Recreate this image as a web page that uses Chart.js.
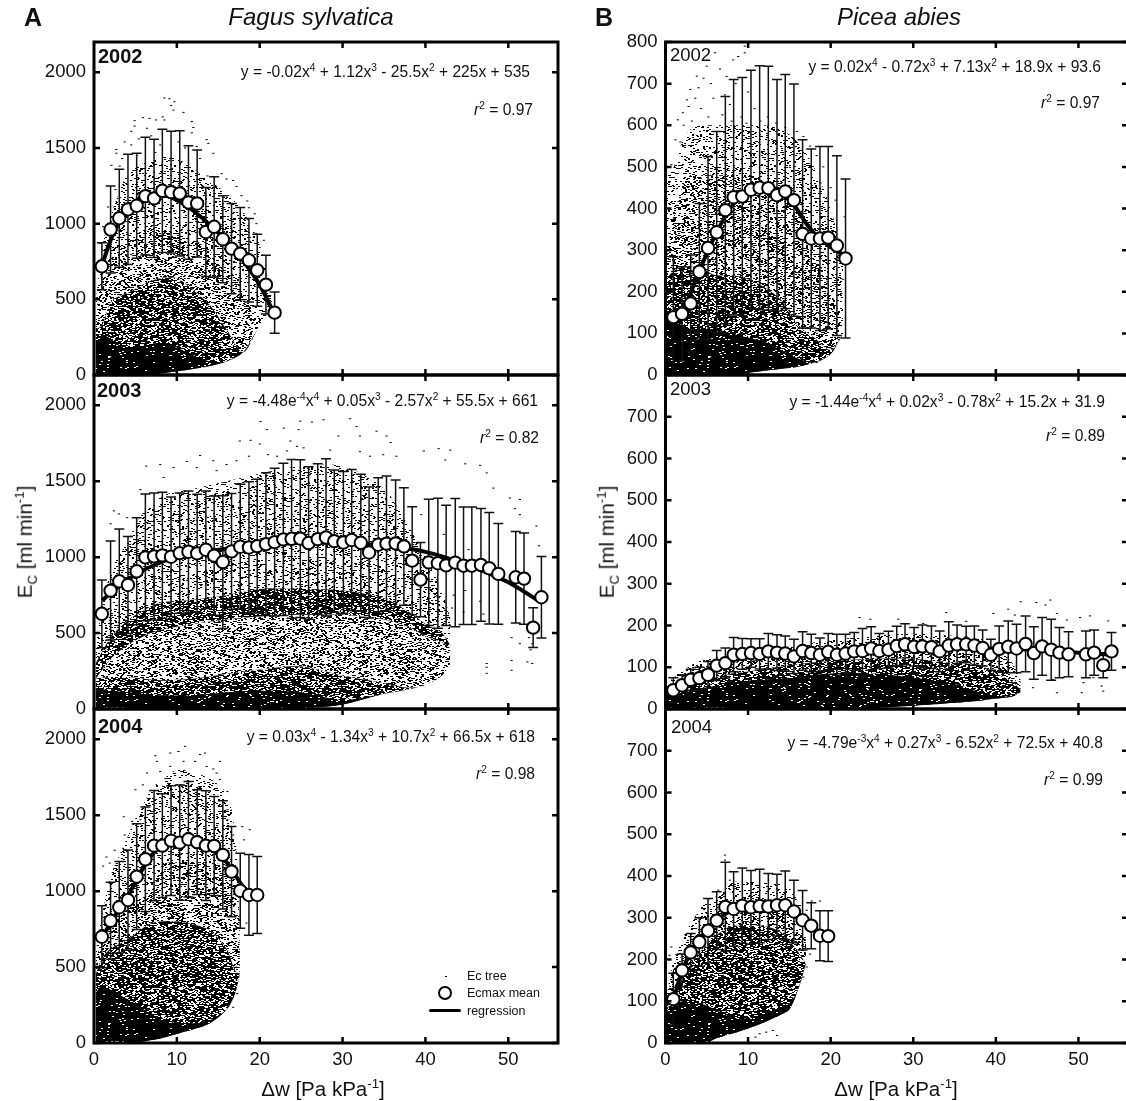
<!DOCTYPE html>
<html>
<head>
<meta charset="utf-8">
<title>Ec vs. delta w</title>
<script src="https://cdn.jsdelivr.net/npm/chart.js@4/dist/chart.umd.min.js"></script>
<style>
  html, body { margin: 0; padding: 0; background: #fff; }
  #page { position: relative; width: 1126px; height: 1101px; overflow: hidden; font-family: "Liberation Sans", Arial, sans-serif; color: #111; }
  #page canvas { position: absolute; }
  .txt { position: absolute; white-space: nowrap; line-height: 1; }
  .eq { font-size: 15.6px; text-align: right; }
  .yr { font-size: 20px; font-weight: bold; }
  .yr.plain { font-weight: normal; font-size: 18.5px; }
  .letter { font-size: 25px; font-weight: bold; }
  .species { font-size: 24px; font-style: italic; transform: translateX(-50%); }
  .axt { font-size: 20.5px; }
  .axt.x { transform: translateX(-50%); }
  .axt.y { transform: translate(-50%, -50%) rotate(-90deg); }
  .leg { font-size: 12.5px; }
  sup, sub { font-size: 0.65em; line-height: 0; }
  #legCircle { position: absolute; left: 438px; top: 986px; width: 10px; height: 10px; border: 2px solid #000; border-radius: 50%; background: #fff; }
  #legLine { position: absolute; left: 429px; top: 1009px; width: 32px; height: 3px; background: #000; border-radius: 2px; }
  #legDot { position: absolute; left: 445px; top: 976px; width: 2px; height: 1px; background: #000; }
</style>
</head>
<body>
<div id="page">
  <div class="txt letter" style="left:24px;top:5px">A</div>
  <div class="txt letter" style="left:595px;top:5px">B</div>
  <div class="txt species" style="left:311px;top:5px">Fagus sylvatica</div>
  <div class="txt species" style="left:899px;top:5px">Picea abies</div>

  <div class="txt yr" style="left:98px;top:46px">2002</div>
  <div class="txt yr" style="left:97px;top:380px">2003</div>
  <div class="txt yr" style="left:98px;top:716px">2004</div>
  <div class="txt yr plain" style="left:670px;top:46px">2002</div>
  <div class="txt yr plain" style="left:670px;top:380px">2003</div>
  <div class="txt yr plain" style="left:671px;top:718px">2004</div>

  <div class="txt eq" style="right:596px;top:64px">y = -0.02x<sup>4</sup> + 1.12x<sup>3</sup> - 25.5x<sup>2</sup> + 225x + 535</div>
  <div class="txt eq" style="right:593px;top:102px"><i>r</i><sup>2</sup> = 0.97</div>
  <div class="txt eq" style="right:588px;top:393px">y = -4.48e<sup>-4</sup>x<sup>4</sup> + 0.05x<sup>3</sup> - 2.57x<sup>2</sup> + 55.5x + 661</div>
  <div class="txt eq" style="right:587px;top:430px"><i>r</i><sup>2</sup> = 0.82</div>
  <div class="txt eq" style="right:591px;top:729px">y = 0.03x<sup>4</sup> - 1.34x<sup>3</sup> + 10.7x<sup>2</sup> + 66.5x + 618</div>
  <div class="txt eq" style="right:591px;top:766px"><i>r</i><sup>2</sup> = 0.98</div>
  <div class="txt eq" style="right:25px;top:59px">y = 0.02x<sup>4</sup> - 0.72x<sup>3</sup> + 7.13x<sup>2</sup> + 18.9x + 93.6</div>
  <div class="txt eq" style="right:26px;top:95px"><i>r</i><sup>2</sup> = 0.97</div>
  <div class="txt eq" style="right:21px;top:394px">y = -1.44e<sup>-4</sup>x<sup>4</sup> + 0.02x<sup>3</sup> - 0.78x<sup>2</sup> + 15.2x + 31.9</div>
  <div class="txt eq" style="right:21px;top:428px"><i>r</i><sup>2</sup> = 0.89</div>
  <div class="txt eq" style="right:23px;top:735px">y = -4.79e<sup>-3</sup>x<sup>4</sup> + 0.27x<sup>3</sup> - 6.52x<sup>2</sup> + 72.5x + 40.8</div>
  <div class="txt eq" style="right:23px;top:772px"><i>r</i><sup>2</sup> = 0.99</div>

  <div class="txt axt y" style="left:25px;top:542px">E<sub>C</sub> [ml min<sup>-1</sup>]</div>
  <div class="txt axt y" style="left:607px;top:542px">E<sub>C</sub> [ml min<sup>-1</sup>]</div>
  <div class="txt axt x" style="left:323px;top:1079px">&#916;w [Pa kPa<sup>-1</sup>]</div>
  <div class="txt axt x" style="left:896px;top:1079px">&#916;w [Pa kPa<sup>-1</sup>]</div>

  <div class="txt leg" style="left:467px;top:970px">Ec tree</div>
  <div class="txt leg" style="left:467px;top:987px">Ecmax mean</div>
  <div class="txt leg" style="left:467px;top:1005px">regression</div>
</div>
<script>
// Values

const dwBins = [0.95,2,3.05,4.1,5.15,6.2,7.25,8.25,9.3,10.35,11.4,12.45,13.5,14.5,15.55,16.6,17.65,18.7,19.7,20.75,21.8,22.85,23.85,24.9,25.9,27,28,29,30.1,31.1,32.2,33.2,34.3,35.3,36.4,37.4,38.4,39.4,40.4,41.5,42.5,43.6,44.6,45.6,46.7,47.7,48.8,50.9,51.9,53,54];

const xTicks = [0,10,20,30,40,50];
const fagusTicks = [0,500,1000,1500,2000];
const piceaTicks = [0,100,200,300,400,500,600,700];
const piceaTicksTop = [0,100,200,300,400,500,600,700,800];

// Ecmax mean and its error bar half length
const meanA02 = [718,961,1036,1094,1118,1182,1167,1217,1208,1200,1140,1133,945,979,897,835,802,758,692,597,412];
const sdA02 = [155,287,324,364,347,389,390,407,402,414,375,353,294,331,287,298,305,276,238,194,136];
const meanA03 = [627,780,841,817,907,999,1005,1012,1003,1027,1036,1025,1049,1010,968,1038,1069,1064,1073,1086,1099,1117,1121,1122,1093,1119,1130,1106,1097,1113,1095,1031,1082,1089,1091,1071,977,852,966,960,946,964,944,944,949,927,890,868,859,536,736];
const sdA03 = [223,326,344,319,352,417,418,415,394,396,400,389,387,393,437,381,411,433,440,470,486,501,523,520,502,496,518,468,468,465,451,431,441,445,417,387,356,245,416,428,396,422,387,387,371,367,332,301,300,131,269];
const meanA04 = [700,805,894,942,1096,1210,1300,1300,1333,1320,1342,1323,1300,1298,1239,1129,1003,975,975];
const sdA04 = [204,254,301,330,348,344,363,342,361,379,381,345,361,326,356,297,247,266,253];
const meanB02 = [139,147,172,248,305,343,396,427,429,445,450,449,432,441,420,339,328,328,330,311,280];
const sdB02 = [145,113,116,164,220,242,273,283,286,287,293,293,278,281,279,226,215,221,219,216,191];
const meanB03 = [45,57,70,74,82,104,110,130,132,134,132,138,135,133,126,139,134,130,137,130,133,138,139,145,139,142,151,155,149,150,148,138,152,155,155,152,146,130,144,149,145,156,134,150,142,135,131,131,135,105,138];
const sdB03 = [30,25,25,26,32,36,36,41,37,34,36,43,43,42,41,46,45,40,44,49,46,45,54,52,42,44,47,49,46,51,51,49,57,46,43,47,43,37,55,62,58,67,63,69,73,60,54,56,54,30,45];
const meanB04 = [105,174,217,242,269,293,326,321,329,325,328,327,330,330,315,294,281,257,256];
const sdB04 = [62,39,45,58,77,69,107,89,90,88,88,79,74,82,75,71,55,60,61];

// regression lines, read as [dw, Ec]
const regA02 = [[1,730],[2,890],[3,1005],[4,1090],[6,1180],[8,1195],[10,1155],[12,1085],[14,990],[16,885],[18,755],[20,595],[21.8,400]];
const regA03 = [[1,715],[3,810],[5,885],[8,965],[12,1025],[16,1055],[20,1075],[25,1095],[30,1095],[35,1075],[40,1035],[45,950],[50,835],[54,700]];
const regA04 = [[1,700],[2,790],[3,880],[4,960],[5,1060],[6,1160],[7,1240],[8,1290],[10,1330],[12,1330],[14,1290],[15,1250],[16,1190],[17,1110],[18,1030],[19,985],[20,965]];
const regB02 = [[1,125],[2,150],[3,195],[4,245],[6,335],[8,405],[10,440],[12,450],[14,435],[15.5,410],[17,365],[18.5,330],[20,308],[21.8,285]];
const regB03 = [[1,46],[3,72],[5,94],[8,116],[12,130],[16,135],[20,137],[30,145],[40,145],[50,135],[54,130]];
const regB04 = [[1,105],[2,172],[3,215],[4,245],[6,290],[8,318],[10,330],[12,335],[14,325],[16,305],[18,275],[20,250]];

// Ec tree: the cloud has thousands of dots, so it is given as outlines of its
// density zones (upper limits per dw, one shared lower limit) plus the stray dots
const zoneXA02 = [0.2,1,2,3,4,6,8,10,12,14,16,18,20,21.5];
const zoneLoA02 = [0,0,0,0,0,0,10,25,40,60,90,150,330,450];
const sparseA02 = [480,850,1050,1200,1320,1400,1440,1430,1360,1280,1200,1080,860,500];
const midA02 = [350,640,750,800,830,900,950,960,900,820,700,520,380,450];
const denseA02 = [300,330,480,520,540,600,640,640,560,460,300,150,330,450];
const blackA02 = [260,270,240,200,180,200,210,180,130,90,90,150,330,450];

const zoneXA03 = [0.2,2,4,6,8,12,16,20,25,30,35,38,40,42,43];
const zoneLoA03 = [0,0,0,0,0,0,0,0,5,30,100,130,160,220,300];
const sparseA03 = [450,900,1100,1300,1400,1450,1500,1550,1600,1600,1450,1200,1000,780,600];
const midA03 = [300,520,620,680,710,720,750,790,790,780,720,640,560,500,420];
const denseA03 = [200,210,210,200,190,200,230,260,280,220,170,140,160,220,300];
const blackA03 = [140,120,110,100,90,90,110,120,110,60,100,130,160,220,300];
// dark ridge of the 2003 beech cloud
const ridgeHiA03 = [300,470,580,650,700,720,750,790,790,780,730,640,560,500,420];
const ridgeLoA03 = [200,330,420,480,520,560,590,610,620,620,590,540,480,440,400];

const zoneXA04 = [0.2,1,2,3,4,5,6,7,8,10,12,14,16,17,17.6];
const zoneLoA04 = [0,0,0,0,0,0,10,20,30,60,90,130,220,320,450];
const sparseA04 = [600,850,1100,1230,1350,1480,1580,1680,1720,1800,1780,1740,1640,1400,800];
const midA04 = [500,720,800,850,880,920,950,1000,1170,1190,1190,1190,1150,880,600];
const denseA04 = [450,560,620,650,680,720,760,790,800,800,780,740,620,480,450];
const blackA04 = [330,380,350,320,290,260,220,190,160,130,130,150,220,320,450];

const zoneXB02 = [0,1,2,3,4,6,8,10,12,14,16,18,20,21.5];
const zoneLoB02 = [0,0,0,0,0,0,0,5,10,15,20,30,50,100];
const sparseB02 = [480,500,560,590,600,600,600,600,600,590,560,500,400,280];
const midB02 = [280,380,450,480,480,480,480,480,470,440,380,300,200,130];
const denseB02 = [230,250,260,260,260,240,240,230,210,180,120,90,60,100];
const blackB02 = [150,130,120,110,110,110,100,90,80,60,40,30,50,100];

const zoneXB03 = [0,2,4,6,8,10,15,20,25,30,35,38,40,42,43];
const zoneLoB03 = [0,0,0,0,0,0,0,0,3,8,15,20,25,30,40];
const sparseB03 = [60,90,115,125,130,135,150,165,175,180,175,170,150,110,70];
const midB03 = [50,70,85,100,110,115,125,135,145,145,140,135,120,80,50];
const denseB03 = [40,55,65,75,85,90,105,115,120,120,110,105,85,65,45];
const blackB03 = [30,38,48,55,62,68,75,85,85,75,60,40,30,32,40];

const zoneXB04 = [0,1,2,3,4,5,6,7,8,10,12,14,15,16,17];
const zoneLoB04 = [0,0,0,0,0,0,10,16,22,35,50,68,80,125,190];
const sparseB04 = [100,200,250,285,315,340,350,370,385,385,385,380,370,350,300];
const midB04 = [80,180,210,240,265,290,310,330,335,340,345,340,330,300,240];
const denseB04 = [60,130,170,190,215,235,255,270,280,280,280,265,245,220,190];
const blackB04 = [60,90,100,100,95,90,80,70,60,60,70,85,95,125,190];

const strayA02 = [[8.5,1830],[9.1,1825],[9.7,1805],[9.3,1780],[9.6,1750],[10.8,1735],[5.9,1700],[6.7,1695],[7.5,1685],[8.3,1705],[8.5,1685],[4.9,1680],[4.9,1645],[6.4,1630],[4.5,1610],[11.8,1675],[12,1635],[11.8,1600],[13.6,1555],[13.8,1530],[3.7,1540],[2.7,1490],[2.7,1465],[14.4,1465],[12.8,1430],[2.1,1385],[3.1,1380],[13.7,1315],[15.4,1330],[16,1295],[16.8,1285],[17.2,1245],[17.8,1185],[18.5,1150],[18.7,1105],[19.4,1065],[19.6,1000],[20.5,890],[19.6,935],[0.7,870],[1.1,980],[1.7,1110],[2.6,1225],[4.5,1520],[5.4,1560],[6.9,1580],[8,1520],[9,1610],[10.2,1540],[11,1500],[7.4,1470],[12.4,1510],[3.4,1430],[5.2,1450]];
const strayA03 = [[20.1,1893],[20.9,1840],[22.9,1850],[17.6,1765],[18.9,1770],[20,1745],[23.7,1765],[24.5,1730],[21,1675],[22.1,1665],[23.3,1700],[6.3,1600],[8,1610],[9.6,1590],[11.2,1630],[12.8,1670],[14.4,1635],[16,1610],[17.2,1635],[18.7,1665],[8.4,1525],[5.6,1445],[2.4,1305],[4,1260],[2,1220],[3,1285],[14.8,1570],[12.4,1590],[24.9,1896],[26.3,1890],[27.7,1905],[30.9,1912],[31.7,1860],[24.7,1840],[29.5,1798],[32.1,1798],[34.1,1830],[35.3,1798],[35.8,1755],[25.3,1720],[28.5,1705],[32.1,1695],[33.3,1665],[34.9,1675],[36.5,1665],[39.8,1700],[41.6,1715],[43,1705],[42.4,1640],[44.8,1615],[46.6,1605],[47.4,1555],[48.2,1455],[50.2,1390],[51.4,1380],[50.8,1320],[51.4,1280],[53.4,1205],[53.7,1075],[52.5,470],[52.9,430],[52.7,390],[52.3,310],[52.9,300],[50.4,470],[50.4,320],[47.4,300],[47.4,275],[47.4,235],[50.4,255],[51.4,430],[43.4,750],[43.2,665],[44.6,640],[44.8,780],[46.6,710],[47,625],[41.2,740],[45.2,1050],[42.2,1150],[39.5,1280]];
const strayA04 = [[11,1954],[9.2,1910],[10.2,1920],[7.4,1892],[12.8,1900],[13.4,1910],[7.6,1855],[9.2,1822],[10.8,1855],[12.2,1855],[15.2,1855],[13.6,1822],[14.4,1805],[6.4,1778],[8,1788],[15.2,1735],[14.8,1778],[5,1668],[5.9,1700],[16.1,1656],[16.1,1536],[16.1,1470],[3.6,1490],[4.6,1460],[5.6,1470],[17.9,1425],[18.8,1405],[18.1,1338],[16.8,1370],[3.7,1370],[2.5,1270],[1.5,1225],[1.9,1185],[1.1,1165],[17.6,810],[18.4,790],[17.2,500],[17.2,415],[17.3,325],[16.8,235]];
const strayB02 = [[9.6,790],[8.8,765],[8.2,757],[9.6,774],[6,774],[6.6,735],[7.4,717],[5,742],[3.8,718],[4.6,713],[3,686],[2.6,661],[4,690],[7.2,673],[2.1,630],[2.8,645],[1.5,613],[1.2,565],[0.7,505],[15.9,585],[16.7,573],[17.5,550],[18.3,527],[19.1,500],[20,450],[20.6,420],[21.7,380],[21.5,230],[21.3,195],[20.7,130],[21,85],[19.1,55],[20,65],[18.3,30],[3.2,610],[4.3,640],[5.2,620],[5.8,665],[6.9,625],[7.8,650],[8.5,700],[9.2,620],[10,680],[10.8,640],[11.5,610],[12.4,620],[3.6,665],[2.2,600],[5.5,700],[8,610],[9.8,605],[13.4,605],[14.5,595],[1.8,560]];
const strayB03 = [[23.5,219],[24.8,215],[28.2,215],[34,231],[31.2,205],[36.4,210],[39.7,229],[43,257],[44.9,255],[46.6,261],[46,249],[41.5,239],[42.3,225],[47.4,229],[48.6,213],[50.2,219],[51.4,223],[53.6,211],[44.5,51],[47.4,39],[50.4,39],[52.8,55],[53,43],[50.6,63],[51.8,75],[42.1,51],[40.9,39],[39.3,47],[46.9,71]];
const strayB04 = [[7.2,450],[7.2,438],[0.7,230],[0.5,210],[7.8,390],[6.4,366],[17.7,340],[18.7,340],[17.1,318],[17.5,213],[17.1,182],[16.7,158],[11.4,22],[12.2,26],[13,30],[13.5,18],[10.9,14]];

// Small dashes repeated as a fill texture, so a zone looks like a dot cloud.
// Only a style: the dashes are not data, the zone outlines above are.
// With a base colour the dashes are white specks on a dark tile instead
function stipple(count, base) {
  const tile = document.createElement('canvas');
  tile.width = 211;
  tile.height = 197;
  const c = tile.getContext('2d');
  if (base) {
    c.fillStyle = base;
    c.fillRect(0, 0, 211, 197);
  }
  c.fillStyle = base ? '#fff' : '#000';
  for (let i = 1; i <= count; i++) {
    let h = Math.imul(i, 2654435761);
    h ^= h >>> 15;
    h = Math.imul(h, 2246822519);
    h ^= h >>> 13;
    c.fillRect((h >>> 4) % 211, (h >>> 16) % 197, 2, 1);
  }
  return c.createPattern(tile, 'repeat');
}

// Spine and inward tick marks, the figure has them on all four sides
const framePlugin = {
  id: 'frame',
  afterDraw(chart, args, opts) {
    const { ctx, chartArea: a, scales } = chart;
    ctx.save();
    ctx.strokeStyle = '#000';
    ctx.lineWidth = 2.5;
    xTicks.slice(1).forEach(v => {
      const px = scales.x.getPixelForValue(v);
      ctx.beginPath();
      ctx.moveTo(px, a.top);
      ctx.lineTo(px, a.top + 6);
      ctx.moveTo(px, a.bottom);
      ctx.lineTo(px, a.bottom - 6);
      ctx.stroke();
    });
    opts.yTicks.forEach(v => {
      const py = scales.y.getPixelForValue(v);
      ctx.beginPath();
      ctx.moveTo(a.left, py);
      ctx.lineTo(a.left + 6, py);
      ctx.moveTo(a.right, py);
      ctx.lineTo(a.right - 6, py);
      ctx.stroke();
    });
    ctx.lineWidth = 3;
    ctx.strokeRect(a.left, a.top, a.right - a.left, a.bottom - a.top);
    ctx.restore();
  }
};

function toPoints(pairs) {
  return pairs.map(p => ({ x: p[0], y: p[1] }));
}

function errorBars(means, sds) {
  const pts = [];
  const gap = { x: NaN, y: NaN };
  means.forEach((m, i) => {
    const x = dwBins[i], lo = m - sds[i], hi = m + sds[i];
    pts.push({ x, y: lo }, { x, y: hi }, gap);
    pts.push({ x: x - 0.6, y: hi }, { x: x + 0.6, y: hi }, gap);
    pts.push({ x: x - 0.6, y: lo }, { x: x + 0.6, y: lo }, gap);
  });
  return pts;
}

function zone(xs, top, low, fillStyle, order) {
  const toXY = arr => arr.map((v, i) => ({ x: xs[i], y: v }));
  return [
    { data: toXY(top), showLine: true, borderWidth: 0, pointRadius: 0, fill: '+1', backgroundColor: fillStyle, tension: 0.3, order },
    { data: toXY(low), showLine: true, borderWidth: 0, pointRadius: 0, fill: false, tension: 0.3, order }
  ];
}

const sparseFill = stipple(4500);
const midFill = stipple(9000);
const denseFill = stipple(8500, '#000');
const blackFill = stipple(1000, '#000');

function drawPanel(cfg) {
  const canvas = document.createElement('canvas');
  canvas.width = cfg.width;
  canvas.height = cfg.height;
  canvas.style.left = cfg.left + 'px';
  canvas.style.top = cfg.top + 'px';
  document.getElementById('page').appendChild(canvas);

  const datasets = [
    ...zone(cfg.zoneX, cfg.sparse, cfg.zoneLo, sparseFill, 20),
    ...zone(cfg.zoneX, cfg.mid, cfg.zoneLo, midFill, 19),
    ...zone(cfg.zoneX, cfg.dense, cfg.zoneLo, denseFill, 18),
    ...zone(cfg.zoneX, cfg.black, cfg.zoneLo, blackFill, 17),
    { label: 'Ec tree', data: toPoints(cfg.stray), pointStyle: 'line', pointRadius: 1.1, pointBorderWidth: 1, pointBorderColor: '#000', showLine: false, order: 10 },
    { label: 'error', data: errorBars(cfg.mean, cfg.sd), showLine: true, spanGaps: false, borderColor: '#111', borderWidth: 1.5, pointRadius: 0, order: 3 },
    { label: 'regression', data: toPoints(cfg.reg), showLine: true, borderColor: '#000', borderWidth: 4, pointRadius: 0, cubicInterpolationMode: 'monotone', order: 2 },
    { label: 'Ecmax mean', data: cfg.mean.map((m, i) => ({ x: dwBins[i], y: m })), showLine: false, pointRadius: 6.2, pointBorderWidth: 2, pointBorderColor: '#000', pointBackgroundColor: '#fff', order: 1 }
  ];
  if (cfg.ridgeHi) {
    datasets.push(...zone(cfg.zoneX, cfg.ridgeHi, cfg.ridgeLo, denseFill, 18));
  }

  new Chart(canvas, {
    type: 'scatter',
    data: { datasets },
    plugins: [framePlugin],
    options: {
      responsive: false,
      animation: false,
      devicePixelRatio: 1,
      layout: { autoPadding: false, padding: { top: cfg.padTop, right: 12, bottom: cfg.padBottom, left: 0 } },
      plugins: {
        legend: { display: false },
        tooltip: { enabled: false },
        frame: { yTicks: cfg.yTicks }
      },
      scales: {
        x: {
          type: 'linear', min: 0, max: 56,
          grid: { display: false, drawTicks: false }, border: { display: false },
          afterBuildTicks: s => { s.ticks = xTicks.map(v => ({ value: v })); },
          afterFit: s => { s.height = cfg.xAxisHeight; s.paddingLeft = 0; s.paddingRight = 0; },
          ticks: { display: cfg.showX, callback: v => String(v), maxRotation: 0, padding: 6, color: '#111', font: { family: 'Liberation Sans', size: 18.5 } }
        },
        y: {
          type: 'linear', min: 0, max: cfg.yMax,
          grid: { display: false, drawTicks: false }, border: { display: false },
          afterBuildTicks: s => { s.ticks = cfg.yTicks.map(v => ({ value: v })); },
          afterFit: s => { s.width = cfg.yAxisWidth; s.paddingTop = 0; s.paddingBottom = 0; },
          ticks: { callback: v => String(v), padding: 8, color: '#111', font: { family: 'Liberation Sans', size: 18.5 } }
        }
      }
    }
  });
}

const colA = { left: 0, width: 570, yAxisWidth: 94, yTicks: fagusTicks, yMax: 2200 };
const colB = { left: 600, width: 540, yAxisWidth: 65.5, yTicks: piceaTicks, yMax: 800 };
const row02 = { top: 30, height: 358, padTop: 12, padBottom: 13, xAxisHeight: 0, showX: false };
const row03 = { top: 363, height: 359, padTop: 12, padBottom: 13, xAxisHeight: 0, showX: false };
const row04 = { top: 697, height: 404, padTop: 12, padBottom: 0, xAxisHeight: 58, showX: true };

drawPanel({ ...colA, ...row02, zoneX: zoneXA02, zoneLo: zoneLoA02, sparse: sparseA02, mid: midA02, dense: denseA02, black: blackA02, stray: strayA02, mean: meanA02, sd: sdA02, reg: regA02 });
drawPanel({ ...colA, ...row03, zoneX: zoneXA03, zoneLo: zoneLoA03, sparse: sparseA03, mid: midA03, dense: denseA03, black: blackA03, ridgeHi: ridgeHiA03, ridgeLo: ridgeLoA03, stray: strayA03, mean: meanA03, sd: sdA03, reg: regA03 });
drawPanel({ ...colA, ...row04, zoneX: zoneXA04, zoneLo: zoneLoA04, sparse: sparseA04, mid: midA04, dense: denseA04, black: blackA04, stray: strayA04, mean: meanA04, sd: sdA04, reg: regA04 });
drawPanel({ ...colB, ...row02, yTicks: piceaTicksTop, zoneX: zoneXB02, zoneLo: zoneLoB02, sparse: sparseB02, mid: midB02, dense: denseB02, black: blackB02, stray: strayB02, mean: meanB02, sd: sdB02, reg: regB02 });
drawPanel({ ...colB, ...row03, zoneX: zoneXB03, zoneLo: zoneLoB03, sparse: sparseB03, mid: midB03, dense: denseB03, black: blackB03, stray: strayB03, mean: meanB03, sd: sdB03, reg: regB03 });
drawPanel({ ...colB, ...row04, zoneX: zoneXB04, zoneLo: zoneLoB04, sparse: sparseB04, mid: midB04, dense: denseB04, black: blackB04, stray: strayB04, mean: meanB04, sd: sdB04, reg: regB04 });

// canvases were appended after the text, keep the text on top
document.querySelectorAll('.txt').forEach(el => { el.style.zIndex = 2; });
['legDot', 'legCircle', 'legLine'].forEach(id => {
  const el = document.createElement('div');
  el.id = id;
  el.style.zIndex = 2;
  document.getElementById('page').appendChild(el);
});
</script>
</body>
</html>
